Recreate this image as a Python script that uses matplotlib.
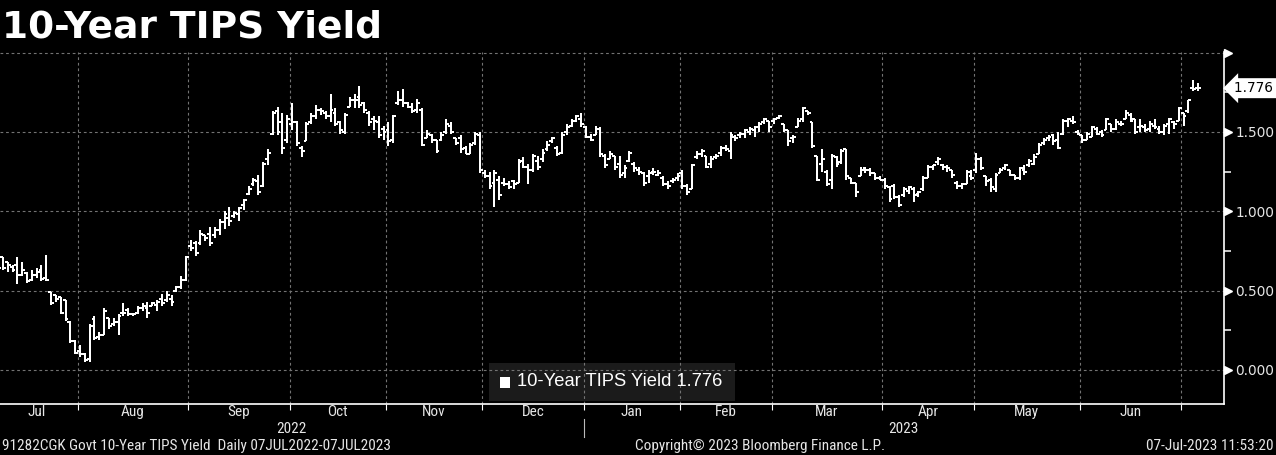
import numpy as np
import pandas as pd
import matplotlib
matplotlib.use('Agg')
import matplotlib.pyplot as plt
import matplotlib.transforms as mtransforms
from matplotlib import font_manager as fm
from matplotlib.patches import Rectangle
from matplotlib.lines import Line2D

# trading days (US bond market holidays removed)
holidays = ['2022-09-05', '2022-10-10', '2022-11-11', '2022-11-24', '2022-12-26',
            '2023-01-02', '2023-01-16', '2023-02-20', '2023-04-07', '2023-05-29',
            '2023-06-19', '2023-07-04']
dates = pd.bdate_range('2022-07-07', '2023-07-07')
dates = dates[~dates.isin(pd.to_datetime(holidays))]

# daily OHLC of the 10-year TIPS yield, one row per month
open_ = [
    0.66, 0.71, 0.68, 0.65, 0.66, 0.60, 0.61, 0.57, 0.60, 0.63, 0.58, 0.49, 0.47, 0.46, 0.44, 0.30, 0.18,
    0.12, 0.10, 0.07, 0.32, 0.21, 0.22, 0.33, 0.29, 0.30, 0.36, 0.38, 0.35, 0.36, 0.39, 0.39, 0.40, 0.41, 0.45, 0.44, 0.45, 0.50, 0.52, 0.57,
    0.78, 0.80, 0.80, 0.85, 0.86, 0.85, 0.88, 0.93, 0.96, 0.97, 0.98, 1.04, 1.11, 1.17, 1.19, 1.16, 1.33, 1.49, 1.63, 1.56, 1.45,
    1.55, 1.56, 1.40, 1.44, 1.56, 1.60, 1.64, 1.62, 1.60, 1.62, 1.56, 1.50, 1.66, 1.70, 1.72, 1.68, 1.62, 1.58, 1.56, 1.52,
    1.51, 1.45, 1.68, 1.70, 1.68, 1.66, 1.64, 1.64, 1.46, 1.48, 1.45, 1.45, 1.50, 1.54, 1.46, 1.46, 1.40, 1.36, 1.43, 1.48,
    1.24, 1.22, 1.18, 1.20, 1.18, 1.17, 1.19, 1.18, 1.32, 1.28, 1.26, 1.32, 1.33, 1.39, 1.44, 1.40, 1.37, 1.50, 1.54, 1.57, 1.58,
    1.53, 1.47, 1.48, 1.52, 1.35, 1.33, 1.35, 1.30, 1.24, 1.32, 1.30, 1.26, 1.24, 1.22, 1.25, 1.23, 1.21, 1.17, 1.19, 1.21,
    1.24, 1.16, 1.14, 1.34, 1.36, 1.35, 1.30, 1.34, 1.37, 1.40, 1.38, 1.47, 1.48, 1.49, 1.50, 1.51, 1.53, 1.56, 1.57,
    1.57, 1.59, 1.55, 1.51, 1.46, 1.53, 1.58, 1.63, 1.56, 1.35, 1.30, 1.25, 1.20, 1.34, 1.31, 1.39, 1.21, 1.18, 1.22, 1.27, 1.26, 1.24, 1.21,
    1.20, 1.15, 1.16, 1.09, 1.10, 1.13, 1.14, 1.11, 1.14, 1.21, 1.28, 1.31, 1.29, 1.28, 1.26, 1.18, 1.16, 1.17, 1.22,
    1.26, 1.33, 1.22, 1.20, 1.14, 1.24, 1.27, 1.26, 1.23, 1.21, 1.26, 1.29, 1.30, 1.36, 1.43, 1.46, 1.48, 1.45, 1.49, 1.57, 1.57, 1.50,
    1.48, 1.45, 1.47, 1.52, 1.50, 1.51, 1.55, 1.52, 1.55, 1.58, 1.61, 1.58, 1.53, 1.53, 1.52, 1.54, 1.52, 1.50, 1.55, 1.56, 1.57,
    1.62, 1.63, 1.78, 1.78,
]
high = [
    0.66, 0.71, 0.68, 0.66, 0.71, 0.68, 0.62, 0.63, 0.645, 0.66, 0.725, 0.49, 0.47, 0.46, 0.44, 0.31, 0.19,
    0.16, 0.11, 0.29, 0.34, 0.24, 0.39, 0.33, 0.33, 0.35, 0.42, 0.39, 0.36, 0.40, 0.42, 0.43, 0.43, 0.44, 0.48, 0.50, 0.47, 0.53, 0.59, 0.72,
    0.82, 0.81, 0.88, 0.85, 0.90, 0.90, 0.95, 1.00, 1.03, 1.00, 1.03, 1.08, 1.16, 1.21, 1.23, 1.31, 1.39, 1.63, 1.66, 1.62, 1.61,
    1.68, 1.57, 1.41, 1.56, 1.62, 1.67, 1.65, 1.63, 1.74, 1.65, 1.57, 1.62, 1.72, 1.74, 1.79, 1.69, 1.63, 1.60, 1.60, 1.54,
    1.56, 1.61, 1.76, 1.77, 1.69, 1.68, 1.71, 1.65, 1.51, 1.49, 1.45, 1.50, 1.58, 1.56, 1.46, 1.48, 1.41, 1.43, 1.50, 1.50,
    1.26, 1.25, 1.26, 1.22, 1.21, 1.19, 1.20, 1.33, 1.34, 1.30, 1.36, 1.35, 1.39, 1.44, 1.47, 1.41, 1.50, 1.55, 1.58, 1.61, 1.62,
    1.54, 1.49, 1.54, 1.53, 1.36, 1.38, 1.35, 1.35, 1.29, 1.38, 1.31, 1.28, 1.25, 1.26, 1.27, 1.26, 1.22, 1.19, 1.21, 1.24,
    1.26, 1.17, 1.30, 1.38, 1.39, 1.35, 1.35, 1.36, 1.41, 1.42, 1.50, 1.48, 1.50, 1.52, 1.53, 1.54, 1.56, 1.59, 1.57,
    1.59, 1.61, 1.55, 1.51, 1.48, 1.59, 1.66, 1.63, 1.56, 1.35, 1.39, 1.26, 1.36, 1.35, 1.39, 1.39, 1.21, 1.18, 1.28, 1.28, 1.27, 1.24, 1.22,
    1.21, 1.16, 1.17, 1.10, 1.15, 1.16, 1.15, 1.13, 1.22, 1.29, 1.29, 1.34, 1.30, 1.29, 1.26, 1.19, 1.18, 1.26, 1.26,
    1.37, 1.34, 1.22, 1.21, 1.24, 1.27, 1.30, 1.26, 1.23, 1.28, 1.29, 1.33, 1.36, 1.43, 1.46, 1.48, 1.49, 1.50, 1.58, 1.59, 1.60, 1.51,
    1.48, 1.50, 1.54, 1.53, 1.51, 1.59, 1.55, 1.58, 1.57, 1.64, 1.62, 1.58, 1.58, 1.55, 1.57, 1.58, 1.54, 1.55, 1.59, 1.57, 1.66,
    1.62, 1.70, 1.83, 1.81,
]
low = [
    0.58, 0.63, 0.62, 0.62, 0.54, 0.59, 0.55, 0.56, 0.58, 0.56, 0.56, 0.41, 0.43, 0.35, 0.31, 0.17, 0.10,
    0.08, 0.05, 0.05, 0.19, 0.19, 0.22, 0.26, 0.28, 0.22, 0.34, 0.34, 0.34, 0.35, 0.37, 0.33, 0.40, 0.37, 0.40, 0.43, 0.40, 0.49, 0.51, 0.56,
    0.75, 0.72, 0.79, 0.81, 0.78, 0.83, 0.85, 0.89, 0.91, 0.96, 0.94, 1.01, 1.10, 1.16, 1.10, 1.15, 1.29, 1.48, 1.48, 1.36, 1.43,
    1.51, 1.41, 1.34, 1.44, 1.55, 1.58, 1.61, 1.58, 1.56, 1.54, 1.49, 1.49, 1.66, 1.65, 1.65, 1.62, 1.54, 1.51, 1.46, 1.45,
    1.41, 1.43, 1.67, 1.66, 1.65, 1.62, 1.62, 1.41, 1.46, 1.43, 1.37, 1.44, 1.49, 1.49, 1.42, 1.37, 1.36, 1.36, 1.42, 1.24,
    1.21, 1.14, 1.03, 1.07, 1.16, 1.14, 1.14, 1.18, 1.27, 1.17, 1.25, 1.26, 1.31, 1.38, 1.43, 1.35, 1.36, 1.48, 1.53, 1.56, 1.53,
    1.46, 1.44, 1.48, 1.34, 1.27, 1.33, 1.26, 1.21, 1.21, 1.31, 1.25, 1.23, 1.16, 1.18, 1.23, 1.22, 1.16, 1.14, 1.18, 1.19,
    1.14, 1.10, 1.14, 1.33, 1.34, 1.27, 1.27, 1.33, 1.35, 1.38, 1.33, 1.44, 1.46, 1.46, 1.48, 1.47, 1.50, 1.55, 1.50,
    1.55, 1.58, 1.50, 1.41, 1.43, 1.53, 1.56, 1.61, 1.40, 1.19, 1.25, 1.16, 1.14, 1.28, 1.30, 1.20, 1.17, 1.09, 1.22, 1.24, 1.22, 1.20, 1.20,
    1.14, 1.06, 1.08, 1.03, 1.09, 1.11, 1.06, 1.09, 1.13, 1.21, 1.26, 1.29, 1.26, 1.25, 1.21, 1.14, 1.14, 1.17, 1.20,
    1.24, 1.26, 1.16, 1.12, 1.12, 1.24, 1.26, 1.22, 1.20, 1.20, 1.23, 1.28, 1.29, 1.36, 1.42, 1.44, 1.42, 1.39, 1.48, 1.53, 1.55, 1.48,
    1.43, 1.45, 1.47, 1.48, 1.47, 1.51, 1.50, 1.51, 1.54, 1.58, 1.56, 1.49, 1.50, 1.50, 1.50, 1.52, 1.49, 1.48, 1.49, 1.52, 1.57,
    1.54, 1.62, 1.76, 1.76,
]
close = [
    0.645, 0.64, 0.66, 0.63, 0.60, 0.63, 0.56, 0.60, 0.62, 0.575, 0.57, 0.42, 0.45, 0.36, 0.32, 0.18, 0.11,
    0.10, 0.06, 0.28, 0.20, 0.22, 0.37, 0.28, 0.30, 0.34, 0.36, 0.35, 0.35, 0.39, 0.40, 0.36, 0.42, 0.43, 0.42, 0.47, 0.43, 0.52, 0.57, 0.71,
    0.77, 0.74, 0.86, 0.83, 0.80, 0.88, 0.93, 0.98, 0.94, 0.99, 1.02, 1.07, 1.14, 1.20, 1.12, 1.30, 1.37, 1.62, 1.50, 1.40, 1.58,
    1.56, 1.43, 1.38, 1.55, 1.60, 1.64, 1.63, 1.60, 1.64, 1.55, 1.51, 1.61, 1.70, 1.70, 1.67, 1.64, 1.56, 1.57, 1.48, 1.50,
    1.44, 1.60, 1.70, 1.68, 1.66, 1.63, 1.68, 1.42, 1.49, 1.45, 1.38, 1.48, 1.55, 1.50, 1.43, 1.39, 1.36, 1.42, 1.49, 1.26,
    1.22, 1.16, 1.24, 1.10, 1.17, 1.15, 1.17, 1.31, 1.28, 1.26, 1.35, 1.28, 1.37, 1.42, 1.46, 1.36, 1.48, 1.53, 1.57, 1.60, 1.55,
    1.47, 1.45, 1.52, 1.36, 1.29, 1.36, 1.28, 1.23, 1.27, 1.37, 1.27, 1.25, 1.18, 1.24, 1.25, 1.24, 1.17, 1.16, 1.20, 1.22,
    1.16, 1.12, 1.29, 1.36, 1.38, 1.28, 1.33, 1.35, 1.40, 1.39, 1.48, 1.46, 1.49, 1.51, 1.52, 1.53, 1.55, 1.58, 1.53,
    1.58, 1.60, 1.51, 1.44, 1.47, 1.57, 1.65, 1.62, 1.41, 1.20, 1.33, 1.17, 1.35, 1.30, 1.38, 1.22, 1.18, 1.12, 1.26, 1.26, 1.24, 1.21, 1.20,
    1.16, 1.08, 1.09, 1.04, 1.14, 1.15, 1.10, 1.12, 1.21, 1.28, 1.29, 1.33, 1.28, 1.27, 1.23, 1.16, 1.17, 1.25, 1.21,
    1.33, 1.27, 1.19, 1.15, 1.23, 1.26, 1.29, 1.23, 1.21, 1.27, 1.25, 1.32, 1.34, 1.42, 1.45, 1.47, 1.44, 1.40, 1.57, 1.58, 1.56, 1.49,
    1.45, 1.49, 1.53, 1.49, 1.48, 1.58, 1.52, 1.56, 1.55, 1.62, 1.57, 1.50, 1.54, 1.51, 1.55, 1.53, 1.50, 1.54, 1.58, 1.55, 1.65,
    1.60, 1.70, 1.77, 1.776,
]

month_names = ['Jul', 'Aug', 'Sep', 'Oct', 'Nov', 'Dec', 'Jan', 'Feb', 'Mar', 'Apr', 'May', 'Jun']
yticks = [0.0, 0.5, 1.0, 1.5, 2.0]
ytick_labels = ['0.000', '0.500', '1.000', '1.500', '']
last_value = close[-1]


def pick(*names):
    for n in names:
        try:
            fm.findfont(fm.FontProperties(family=n), fallback_to_default=False)
            return n
        except ValueError:
            pass
    return 'DejaVu Sans'


narrow = pick('Liberation Sans Narrow', 'Roboto Condensed', 'DejaVu Sans')
legend_font = pick('Liberation Sans', 'Arial', 'DejaVu Sans')

W, H = 1276, 455
AX_BOTTOM = 404
fig = plt.figure(figsize=(W / 100, H / 100), dpi=100, facecolor='black')
ax = fig.add_axes([0, 1 - AX_BOTTOM / H, 1224 / W, (AX_BOTTOM - 52) / H], facecolor='black')

x = np.arange(len(close))
lw = 1.25
ax.vlines(x, low, high, color='white', lw=lw, zorder=3, antialiased=False)
ax.hlines(open_, x - 0.6, x, color='white', lw=lw, zorder=3, antialiased=False)
ax.hlines(close, x, x + 0.6, color='white', lw=lw, zorder=3, antialiased=False)

ax.set_xlim(0.4, 254.4)
ax.set_ylim((370 - AX_BOTTOM) / 158.5, 2.004)

# month boundaries
months = dates.to_period('M')
starts = [i for i in range(1, len(dates)) if months[i] != months[i - 1]]
bounds = [s - 0.5 for s in starts]
grid_kw = dict(color='#737373', lw=0.8, ls=(0, (2.5, 2.5)), zorder=2)
for b in bounds:
    ax.axvline(b, **grid_kw)
for yv in yticks:
    ax.axhline(yv, **grid_kw)

fx = mtransforms.blended_transform_factory(ax.transData, fig.transFigure)
text_kw = dict(color='#e6e6e6', fontsize=11, family=narrow)

# month labels centred on each month
for m in months.unique():
    idx = np.where(months == m)[0]
    if len(idx) < 8:
        continue
    ax.text(idx.mean(), 1 - 412 / H, month_names[(m.month - 7) % 12], transform=fx,
            ha='center', va='center', **text_kw)

# year labels and separator
ybound = [b for b, s in zip(bounds, starts) if dates[s].month == 1][0]
ax.text((0.4 + ybound) / 2, 1 - 429 / H, '2022', transform=fx, ha='center', va='center', **text_kw)
ax.text((ybound + 254.4) / 2, 1 - 429 / H, '2023', transform=fx, ha='center', va='center', **text_kw)
ax.add_line(Line2D([ybound, ybound], [1 - 419 / H, 1 - 437 / H], transform=fx, color='#bbbbbb',
                   lw=0.8, clip_on=False))

# spines
for s in ['top', 'left']:
    ax.spines[s].set_visible(False)
for s in ['right', 'bottom']:
    ax.spines[s].set_color('white')
    ax.spines[s].set_linewidth(1.2)

ax.set_xticks(bounds)
ax.set_xticklabels([])
ax.tick_params(axis='x', length=4, color='white', direction='out')

ax.yaxis.tick_right()
ax.set_yticks(yticks)
ax.set_yticklabels(ytick_labels)
ax.set_yticks([0.25, 0.75, 1.25, 1.75], minor=True)
ax.tick_params(axis='y', which='major', length=0, pad=8, labelcolor='#e6e6e6', labelsize=9.8)
ax.tick_params(axis='y', which='minor', length=5, width=1.1, color='white', direction='out')

# triangle tick markers on the right axis
yt = ax.get_yaxis_transform()
tri = mtransforms.offset_copy(yt, fig=fig, x=3.5, y=0, units='dots')
ax.plot(np.ones(len(yticks)), yticks, ls='none', marker='>', ms=5.5, color='white',
        transform=tri, clip_on=False, zorder=5)

# last value tag
ax.text(1.0, last_value, '%.3f ' % last_value,
        transform=mtransforms.offset_copy(yt, fig=fig, x=10, y=0, units='dots'),
        ha='left', va='center', color='black', fontsize=9.8, clip_on=False,
        bbox=dict(boxstyle='larrow,pad=0.22', fc='white', ec='none'), zorder=6)

# legend box
ax.add_patch(Rectangle((489 / W, 1 - 401 / H), 246 / W, 38 / H, transform=fig.transFigure,
                       fc='#1b1b1b', ec='none', zorder=1, clip_on=False))
ax.add_patch(Rectangle((500 / W, 1 - 388 / H), 10 / W, 11 / H, transform=fig.transFigure,
                       fc='white', ec='none', zorder=4, clip_on=False))
fig.text(517 / W, 1 - 382 / H, '10-Year TIPS Yield %.3f' % last_value, ha='left', va='center',
         color='white', fontsize=13.2, family=legend_font)

# title and footer
fig.text(2 / W, 1 - 37 / H, '10-Year TIPS Yield', ha='left', va='baseline', color='white',
         fontsize=27, fontweight='bold', family='DejaVu Sans')
fig.text(2 / W, 1 - 446 / H, '91282CGK Govt 10-Year TIPS Yield  Daily 07JUL2022-07JUL2023',
         ha='left', va='center', **text_kw)
fig.text(760 / W, 1 - 446 / H, 'Copyright\u00a9 2023 Bloomberg Finance L.P.',
         ha='center', va='center', **text_kw)
fig.text(1274 / W, 1 - 446 / H, '07-Jul-2023 11:53:20', ha='right', va='center', **text_kw)

fig.savefig('out.png', dpi=100, facecolor='black')
